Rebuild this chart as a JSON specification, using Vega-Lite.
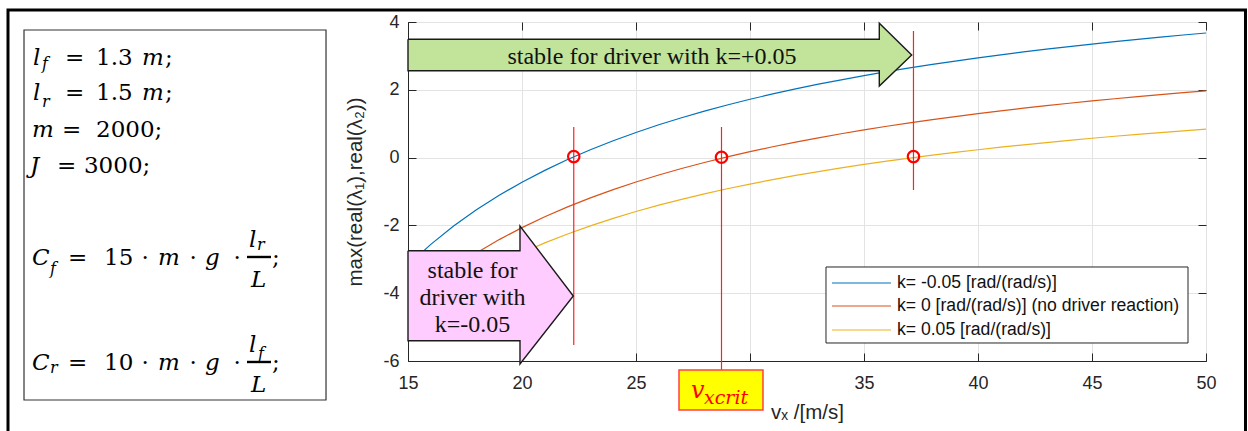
{
  "$schema": "https://vega.github.io/schema/vega-lite/v6.json",
  "width": 798,
  "height": 339,
  "autosize": {"type": "none"},
  "padding": {"left": 408, "top": 22, "right": 42, "bottom": 70},
  "background": "white",
  "config": {
    "view": {"stroke": "#262626", "strokeWidth": 1},
    "axis": {
      "labelFont": "Liberation Sans",
      "labelFontSize": 18,
      "labelColor": "#262626",
      "titleFont": "Liberation Sans",
      "titleFontSize": 20.5,
      "titleFontWeight": "normal",
      "titleColor": "#262626",
      "domainColor": "#262626",
      "tickColor": "#262626",
      "gridColor": "#e3e3e3",
      "tickSize": -8,
      "labelFlush": false
    }
  },
  "datasets": {
    "curves": [
      {"k": "a", "x": 15, "y": -3.170}, {"k": "a", "x": 16, "y": -2.559}, {"k": "a", "x": 17, "y": -2.019}, {"k": "a", "x": 18, "y": -1.540},
      {"k": "a", "x": 19, "y": -1.111}, {"k": "a", "x": 20, "y": -0.725}, {"k": "a", "x": 21, "y": -0.376}, {"k": "a", "x": 22, "y": -0.058},
      {"k": "a", "x": 23, "y": 0.232}, {"k": "a", "x": 24, "y": 0.497}, {"k": "a", "x": 25, "y": 0.742}, {"k": "a", "x": 26, "y": 0.968},
      {"k": "a", "x": 27, "y": 1.177}, {"k": "a", "x": 28, "y": 1.371}, {"k": "a", "x": 29, "y": 1.551}, {"k": "a", "x": 30, "y": 1.720},
      {"k": "a", "x": 31, "y": 1.878}, {"k": "a", "x": 32, "y": 2.026}, {"k": "a", "x": 33, "y": 2.165}, {"k": "a", "x": 34, "y": 2.295},
      {"k": "a", "x": 35, "y": 2.419}, {"k": "a", "x": 36, "y": 2.535}, {"k": "a", "x": 37, "y": 2.645}, {"k": "a", "x": 38, "y": 2.749},
      {"k": "a", "x": 39, "y": 2.848}, {"k": "a", "x": 40, "y": 2.942}, {"k": "a", "x": 41, "y": 3.032}, {"k": "a", "x": 42, "y": 3.117},
      {"k": "a", "x": 43, "y": 3.198}, {"k": "a", "x": 44, "y": 3.276}, {"k": "a", "x": 45, "y": 3.350}, {"k": "a", "x": 46, "y": 3.421},
      {"k": "a", "x": 47, "y": 3.489}, {"k": "a", "x": 48, "y": 3.554}, {"k": "a", "x": 49, "y": 3.616}, {"k": "a", "x": 50, "y": 3.676},
      {"k": "b", "x": 15, "y": -4.307}, {"k": "b", "x": 16, "y": -3.746}, {"k": "b", "x": 17, "y": -3.252}, {"k": "b", "x": 18, "y": -2.812},
      {"k": "b", "x": 19, "y": -2.419}, {"k": "b", "x": 20, "y": -2.065}, {"k": "b", "x": 21, "y": -1.745}, {"k": "b", "x": 22, "y": -1.454},
      {"k": "b", "x": 23, "y": -1.188}, {"k": "b", "x": 24, "y": -0.944}, {"k": "b", "x": 25, "y": -0.720}, {"k": "b", "x": 26, "y": -0.513},
      {"k": "b", "x": 27, "y": -0.321}, {"k": "b", "x": 28, "y": -0.144}, {"k": "b", "x": 29, "y": 0.022}, {"k": "b", "x": 30, "y": 0.177},
      {"k": "b", "x": 31, "y": 0.321}, {"k": "b", "x": 32, "y": 0.457}, {"k": "b", "x": 33, "y": 0.584}, {"k": "b", "x": 34, "y": 0.704},
      {"k": "b", "x": 35, "y": 0.817}, {"k": "b", "x": 36, "y": 0.924}, {"k": "b", "x": 37, "y": 1.025}, {"k": "b", "x": 38, "y": 1.121},
      {"k": "b", "x": 39, "y": 1.211}, {"k": "b", "x": 40, "y": 1.297}, {"k": "b", "x": 41, "y": 1.380}, {"k": "b", "x": 42, "y": 1.458},
      {"k": "b", "x": 43, "y": 1.532}, {"k": "b", "x": 44, "y": 1.603}, {"k": "b", "x": 45, "y": 1.671}, {"k": "b", "x": 46, "y": 1.736},
      {"k": "b", "x": 47, "y": 1.798}, {"k": "b", "x": 48, "y": 1.858}, {"k": "b", "x": 49, "y": 1.915}, {"k": "b", "x": 50, "y": 1.970},
      {"k": "c", "x": 15, "y": -4.830}, {"k": "c", "x": 16, "y": -4.324}, {"k": "c", "x": 17, "y": -3.877}, {"k": "c", "x": 18, "y": -3.480},
      {"k": "c", "x": 19, "y": -3.125}, {"k": "c", "x": 20, "y": -2.805}, {"k": "c", "x": 21, "y": -2.516}, {"k": "c", "x": 22, "y": -2.253},
      {"k": "c", "x": 23, "y": -2.013}, {"k": "c", "x": 24, "y": -1.793}, {"k": "c", "x": 25, "y": -1.590}, {"k": "c", "x": 26, "y": -1.403},
      {"k": "c", "x": 27, "y": -1.230}, {"k": "c", "x": 28, "y": -1.069}, {"k": "c", "x": 29, "y": -0.920}, {"k": "c", "x": 30, "y": -0.780},
      {"k": "c", "x": 31, "y": -0.649}, {"k": "c", "x": 32, "y": -0.527}, {"k": "c", "x": 33, "y": -0.412}, {"k": "c", "x": 34, "y": -0.304},
      {"k": "c", "x": 35, "y": -0.201}, {"k": "c", "x": 36, "y": -0.105}, {"k": "c", "x": 37, "y": -0.014}, {"k": "c", "x": 38, "y": 0.073},
      {"k": "c", "x": 39, "y": 0.155}, {"k": "c", "x": 40, "y": 0.232}, {"k": "c", "x": 41, "y": 0.307}, {"k": "c", "x": 42, "y": 0.377},
      {"k": "c", "x": 43, "y": 0.444}, {"k": "c", "x": 44, "y": 0.509}, {"k": "c", "x": 45, "y": 0.570}, {"k": "c", "x": 46, "y": 0.629},
      {"k": "c", "x": 47, "y": 0.685}, {"k": "c", "x": 48, "y": 0.739}, {"k": "c", "x": 49, "y": 0.790}, {"k": "c", "x": 50, "y": 0.840}
    ],
    "crit": [
      {"x": 22.27, "y": 0.03, "top": 0.903, "bot": -5.528},
      {"x": 28.75, "y": 0.01, "top": 0.903, "bot": -6.265},
      {"x": 37.17, "y": 0.03, "top": 3.735, "bot": -0.956}
    ],
    "greenArrow": [
      {"i": 0, "x": 15, "y": 3.490}, {"i": 1, "x": 35.671, "y": 3.490}, {"i": 2, "x": 35.671, "y": 3.962},
      {"i": 3, "x": 37.092, "y": 3.027}, {"i": 4, "x": 35.671, "y": 2.112}, {"i": 5, "x": 35.671, "y": 2.563},
      {"i": 6, "x": 15, "y": 2.563}, {"i": 7, "x": 15, "y": 3.490}
    ],
    "pinkArrow": [
      {"i": 0, "x": 15, "y": -2.746}, {"i": 1, "x": 19.912, "y": -2.746}, {"i": 2, "x": 19.912, "y": -2.018},
      {"i": 3, "x": 22.25, "y": -4.083}, {"i": 4, "x": 19.912, "y": -6.088}, {"i": 5, "x": 19.912, "y": -5.401},
      {"i": 6, "x": 15, "y": -5.401}, {"i": 7, "x": 15, "y": -2.746}
    ],
    "arrowText": [
      {"t": "stable for driver with k=+0.05", "x": 25.70, "y": 2.752},
      {"t": "stable for", "x": 17.83, "y": -3.552},
      {"t": "driver with", "x": 17.83, "y": -4.348},
      {"t": "k=-0.05", "x": 17.83, "y": -5.145}
    ],
    "legendRows": [
      {"k": "a", "label": "k= -0.05 [rad/(rad/s)]", "x": 33.596, "x2": 36.184, "tx": 36.447, "y": -3.699},
      {"k": "b", "label": "k= 0 [rad/(rad/s)] (no driver reaction)", "x": 33.596, "x2": 36.184, "tx": 36.447, "y": -4.378},
      {"k": "c", "label": "k= 0.05 [rad/(rad/s)]", "x": 33.596, "x2": 36.184, "tx": 36.447, "y": -5.086}
    ],
    "mathI": [
      {"t": "l", "x": -1.447, "y": 2.732}, {"t": "m", "x": 3.333, "y": 2.732},
      {"t": "l", "x": -1.447, "y": 1.699}, {"t": "m", "x": 3.333, "y": 1.699},
      {"t": "m", "x": -1.491, "y": 0.608},
      {"t": "J", "x": -1.579, "y": -0.454},
      {"t": "C", "x": -1.491, "y": -3.168}, {"t": "m", "x": 4.035, "y": -3.168}, {"t": "g", "x": 6.096, "y": -3.168},
      {"t": "l", "x": 8.026, "y": -2.637}, {"t": "L", "x": 8.114, "y": -3.817},
      {"t": "C", "x": -1.491, "y": -6.265}, {"t": "m", "x": 4.035, "y": -6.265}, {"t": "g", "x": 6.096, "y": -6.265},
      {"t": "l", "x": 8.026, "y": -5.735}, {"t": "L", "x": 8.114, "y": -6.914}
    ],
    "mathN": [
      {"t": "=", "x": -0.044, "y": 2.732}, {"t": "1.3", "x": 1.316, "y": 2.732}, {"t": ";", "x": 4.342, "y": 2.732},
      {"t": "=", "x": -0.044, "y": 1.699}, {"t": "1.5", "x": 1.316, "y": 1.699}, {"t": ";", "x": 4.342, "y": 1.699},
      {"t": "=", "x": -0.175, "y": 0.608}, {"t": "2000;", "x": 1.316, "y": 0.608},
      {"t": "=", "x": -0.394, "y": -0.454}, {"t": "3000;", "x": 0.789, "y": -0.454},
      {"t": "=", "x": 0.088, "y": -3.168}, {"t": "15", "x": 1.667, "y": -3.168}, {"t": "·", "x": 3.307, "y": -3.168},
      {"t": "·", "x": 5.412, "y": -3.168}, {"t": "·", "x": 7.342, "y": -3.168}, {"t": ";", "x": 9.035, "y": -3.168},
      {"t": "=", "x": 0.088, "y": -6.265}, {"t": "10", "x": 1.667, "y": -6.265}, {"t": "·", "x": 3.307, "y": -6.265},
      {"t": "·", "x": 5.412, "y": -6.265}, {"t": "·", "x": 7.342, "y": -6.265}, {"t": ";", "x": 9.035, "y": -6.265}
    ],
    "mathS": [
      {"t": "f", "x": -1.053, "y": 2.599},
      {"t": "r", "x": -1.053, "y": 1.493},
      {"t": "f", "x": -0.702, "y": -3.419},
      {"t": "r", "x": -0.702, "y": -6.354},
      {"t": "r", "x": 8.377, "y": -2.726},
      {"t": "f", "x": 8.421, "y": -5.941}
    ],
    "bars": [
      {"x": 7.939, "x2": 8.991, "y": -2.932},
      {"x": 7.939, "x2": 8.991, "y": -6.029}
    ]
  },
  "encoding": {
    "x": {"field": "x", "type": "quantitative", "scale": {"domain": [15, 50], "nice": false, "zero": false}, "axis": null},
    "y": {"field": "y", "type": "quantitative", "scale": {"domain": [-6, 4], "nice": false, "zero": false}, "axis": null}
  },
  "resolve": {"axis": {"x": "independent", "y": "independent"}},
  "layer": [
    {
      "data": {"values": [{"x": -2.544, "x2": 51.732, "y": 4.354, "y2": -8.6}]},
      "mark": {"type": "rect", "fill": "transparent", "stroke": "black", "strokeWidth": 3, "clip": false},
      "encoding": {"x2": {"field": "x2"}, "y2": {"field": "y2"}}
    },
    {
      "data": {"values": [{"x": -1.842, "x2": 11.404, "y": 3.764, "y2": -7.150}]},
      "mark": {"type": "rect", "fill": "transparent", "stroke": "#333333", "strokeWidth": 1.2, "clip": false},
      "encoding": {"x2": {"field": "x2"}, "y2": {"field": "y2"}}
    },
    {
      "data": {"name": "curves"},
      "mark": {"type": "line", "clip": true, "strokeWidth": 1.2},
      "encoding": {
        "x": {"field": "x", "type": "quantitative", "scale": {"domain": [15, 50], "nice": false, "zero": false},
              "axis": {"values": [15, 20, 25, 30, 35, 40, 45, 50], "labelExpr": "datum.value == 30 ? '' : '' + datum.value", "title": "vₓ /[m/s]", "grid": true, "labelPadding": 21, "titlePadding": 10}},
        "y": {"field": "y", "type": "quantitative", "scale": {"domain": [-6, 4], "nice": false, "zero": false},
              "axis": {"values": [-6, -4, -2, 0, 2, 4], "labelExpr": "'' + datum.value", "title": "max(real(λ₁),real(λ₂))", "grid": true, "labelPadding": 17, "titlePadding": 17}},
        "color": {"field": "k", "type": "nominal", "scale": {"domain": ["a", "b", "c"], "range": ["#0072BD", "#D95319", "#EDB120"]}, "legend": null}
      }
    },
    {
      "data": {"name": "crit"},
      "mark": {"type": "rule", "color": "#ff2020", "strokeWidth": 1.2, "clip": false},
      "encoding": {
        "x": {"field": "x", "type": "quantitative", "axis": {"orient": "top", "labels": false, "title": null, "grid": false, "domain": false, "values": [15, 20, 25, 30, 35, 40, 45, 50]}},
        "y": {"field": "top", "type": "quantitative", "axis": {"orient": "right", "labels": false, "title": null, "grid": false, "domain": false, "values": [-6, -4, -2, 0, 2, 4]}},
        "y2": {"field": "bot"}
      }
    },
    {
      "data": {"name": "crit"},
      "mark": {"type": "point", "shape": "circle", "size": 130, "filled": false, "stroke": "#ff0000", "strokeWidth": 2.2, "opacity": 1, "clip": false}
    },
    {
      "data": {"name": "greenArrow"},
      "mark": {"type": "line", "fill": "#c1e39a", "stroke": "#1a1a1a", "strokeWidth": 1.4, "strokeJoin": "miter", "clip": false},
      "encoding": {"order": {"field": "i", "type": "quantitative"}}
    },
    {
      "data": {"name": "pinkArrow"},
      "mark": {"type": "line", "fill": "#ffccff", "stroke": "#1a1a1a", "strokeWidth": 1.4, "strokeJoin": "miter", "clip": false},
      "encoding": {"order": {"field": "i", "type": "quantitative"}}
    },
    {
      "data": {"name": "arrowText"},
      "mark": {"type": "text", "font": "Liberation Serif", "fontSize": 24, "color": "#111111", "align": "center", "baseline": "alphabetic", "clip": false},
      "encoding": {"text": {"field": "t"}}
    },
    {
      "data": {"values": [{"x": 33.333, "x2": 49.211, "y": -3.227, "y2": -5.469}]},
      "mark": {"type": "rect", "fill": "white", "stroke": "#262626", "strokeWidth": 1, "clip": false},
      "encoding": {"x2": {"field": "x2"}, "y2": {"field": "y2"}}
    },
    {
      "data": {"name": "legendRows"},
      "mark": {"type": "rule", "strokeWidth": 1.2, "clip": false},
      "encoding": {
        "x2": {"field": "x2"},
        "color": {"field": "k", "type": "nominal", "scale": {"domain": ["a", "b", "c"], "range": ["#0072BD", "#D95319", "#EDB120"]}, "legend": null}
      }
    },
    {
      "data": {"name": "legendRows"},
      "mark": {"type": "text", "font": "Liberation Sans", "fontSize": 17.6, "color": "#111111", "align": "left", "baseline": "middle", "clip": false},
      "encoding": {"x": {"field": "tx", "type": "quantitative"}, "text": {"field": "label"}}
    },
    {
      "data": {"values": [{"x": 26.886, "x2": 30.570, "y": -6.265, "y2": -7.445}]},
      "mark": {"type": "rect", "fill": "#ffff00", "stroke": "#ff4040", "strokeWidth": 1.5, "clip": false},
      "encoding": {"x2": {"field": "x2"}, "y2": {"field": "y2"}}
    },
    {
      "data": {"values": [{"t": "v", "x": 27.412, "y": -7.091}]},
      "mark": {"type": "text", "font": "DejaVu Serif", "fontStyle": "italic", "fontSize": 24, "color": "#ff0000", "align": "left", "baseline": "alphabetic", "clip": false},
      "encoding": {"text": {"field": "t"}}
    },
    {
      "data": {"values": [{"t": "xcrit", "x": 27.982, "y": -7.268}]},
      "mark": {"type": "text", "font": "DejaVu Serif", "fontStyle": "italic", "fontSize": 19, "color": "#ff0000", "align": "left", "baseline": "alphabetic", "clip": false},
      "encoding": {"text": {"field": "t"}}
    },
    {
      "data": {"name": "mathI"},
      "mark": {"type": "text", "font": "DejaVu Serif", "fontStyle": "italic", "fontSize": 23, "color": "#000000", "align": "left", "baseline": "alphabetic", "clip": false},
      "encoding": {"text": {"field": "t"}}
    },
    {
      "data": {"name": "mathN"},
      "mark": {"type": "text", "font": "DejaVu Serif", "fontSize": 23, "color": "#000000", "align": "left", "baseline": "alphabetic", "clip": false},
      "encoding": {"text": {"field": "t"}}
    },
    {
      "data": {"name": "mathS"},
      "mark": {"type": "text", "font": "DejaVu Serif", "fontStyle": "italic", "fontSize": 16, "color": "#000000", "align": "left", "baseline": "alphabetic", "clip": false},
      "encoding": {"text": {"field": "t"}}
    },
    {
      "data": {"name": "bars"},
      "mark": {"type": "rule", "color": "#000000", "strokeWidth": 2.4, "clip": false},
      "encoding": {"x2": {"field": "x2"}}
    }
  ]
}
